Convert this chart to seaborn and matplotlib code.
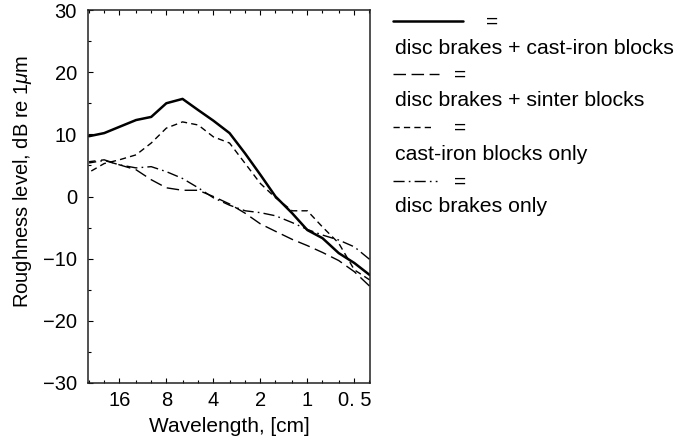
import numpy as np
import pandas as pd
import seaborn as sns
import matplotlib
matplotlib.use("Agg")
import matplotlib.pyplot as plt
from matplotlib.lines import Line2D
from matplotlib.ticker import FixedLocator, FixedFormatter, NullFormatter

sns.set_theme(style="white")
plt.rcParams['font.family'] = ['Liberation Sans', 'DejaVu Sans']
plt.rcParams['mathtext.fontset'] = 'custom'
plt.rcParams['mathtext.it'] = 'Liberation Sans:italic'
plt.rcParams['mathtext.rm'] = 'Liberation Sans'

# third-octave band wavelengths [cm]
wavelength = [25, 20, 16, 12.5, 10, 8, 6.3, 5, 4, 3.15, 2.5, 2, 1.6, 1.25, 1, 0.8, 0.63, 0.5, 0.4]

disc_castiron = [9.7, 10.2, 11.2, 12.3, 12.8, 15.0, 15.7, 13.9, 12.2, 10.2, 6.9, 3.5, 0.0,
                 -2.7, -5.4, -6.7, -9.1, -10.7, -12.6]
disc_sinter = [5.6, 5.9, 5.1, 4.3, 2.7, 1.4, 1.0, 1.0, 0.0, -1.2, -2.7, -4.4, -5.6,
               -6.9, -7.9, -9.0, -10.3, -12.1, -14.4]
castiron_only = [3.9, 5.3, 5.9, 6.7, 8.6, 11.0, 12.0, 11.5, 9.6, 8.6, 5.3, 2.1, -0.2,
                 -2.3, -2.3, -4.9, -7.5, -11.8, -13.4]
disc_only = [5.4, 5.8, 5.1, 4.6, 4.8, 4.0, 2.9, 1.4, -0.2, -1.4, -2.3, -2.6, -3.1,
             -4.2, -5.3, -6.2, -7.0, -8.1, -10.1]

series_names = ["disc brakes + cast-iron blocks", "disc brakes + sinter blocks",
                "cast-iron blocks only", "disc brakes only"]
x_ticks = [16, 8, 4, 2, 1, 0.5]
x_ticklabels = ["16", "8", "4", "2", "1", "0. 5"]
y_ticks = [-30, -20, -10, 0, 10, 20, 30]

W, H = 676, 446
fig = plt.figure(figsize=(W / 100, H / 100), dpi=100)
ax = fig.add_axes([88 / W, 1 - 383 / H, (370 - 88) / W, (383 - 10) / H])

styles = [
    dict(lw=1.8, linestyle='-'),
    dict(lw=1.0, linestyle=(0, (9, 4))),
    dict(lw=1.0, linestyle=(0, (4.5, 3))),
    dict(lw=1.0, linestyle=(0, (8, 3, 1.2, 3))),
]
data = [disc_castiron, disc_sinter, castiron_only, disc_only]
for vals, st in zip(data, styles):
    df = pd.DataFrame({"wl": wavelength, "lvl": vals})
    sns.lineplot(data=df, x="wl", y="lvl", ax=ax, color="black", **st)

ax.set_xscale('log', base=2)
ax.set_xlim(25.4, 0.397)
ax.set_ylim(-30, 30)
ax.xaxis.set_major_locator(FixedLocator(x_ticks))
ax.xaxis.set_major_formatter(FixedFormatter(x_ticklabels))
ax.xaxis.set_minor_locator(FixedLocator(wavelength))
ax.xaxis.set_minor_formatter(NullFormatter())
ax.yaxis.set_major_locator(FixedLocator(y_ticks))
ax.yaxis.set_minor_locator(FixedLocator([-25, -15, -5, 5, 15, 25]))
ax.set_yticklabels(["\u221230", "\u221220", "\u221210", "0", "10", "20", "30"])

ax.tick_params(axis='both', which='both', direction='in', labelsize=14.5, colors='black',
               width=0.8)
ax.tick_params(axis='x', which='both', top=True, bottom=True, pad=6)
ax.tick_params(axis='y', which='both', left=True, right=False, pad=8)
ax.tick_params(which='major', length=3.5)
ax.tick_params(which='minor', length=2.5)
for s in ax.spines.values():
    s.set_color('#222222')
    s.set_linewidth(1.1)

ax.set_xlabel("Wavelength, [cm]", fontsize=15, color='black', labelpad=5)
ax.set_ylabel(r"Roughness level, dB re 1$\mu$m", fontsize=14.5, color='black')
ax.yaxis.set_label_coords(-0.19, 0.54)

# custom legend outside the axes
def fx(px):
    return px / W

def fy(py):
    return 1 - py / H

leg_rows = [(21, 49, 393, 463, 492), (74, 101, 393, 439, 460),
            (127, 154, 393, 433, 460), (181, 206, 393, 437, 460)]
for (ly, ty, x0, x1, xeq), st, name in zip(leg_rows, styles, series_names):
    fig.add_artist(Line2D([fx(x0), fx(x1)], [fy(ly), fy(ly)], color='black',
                          transform=fig.transFigure, **st))
    fig.text(fx(xeq), fy(ly + 1), "=", ha='center', va='center', fontsize=15, color='black')
    fig.text(fx(395), fy(ty), name, ha='left', va='center', fontsize=15.3, color='black')

fig.savefig("out.png", dpi=100)
